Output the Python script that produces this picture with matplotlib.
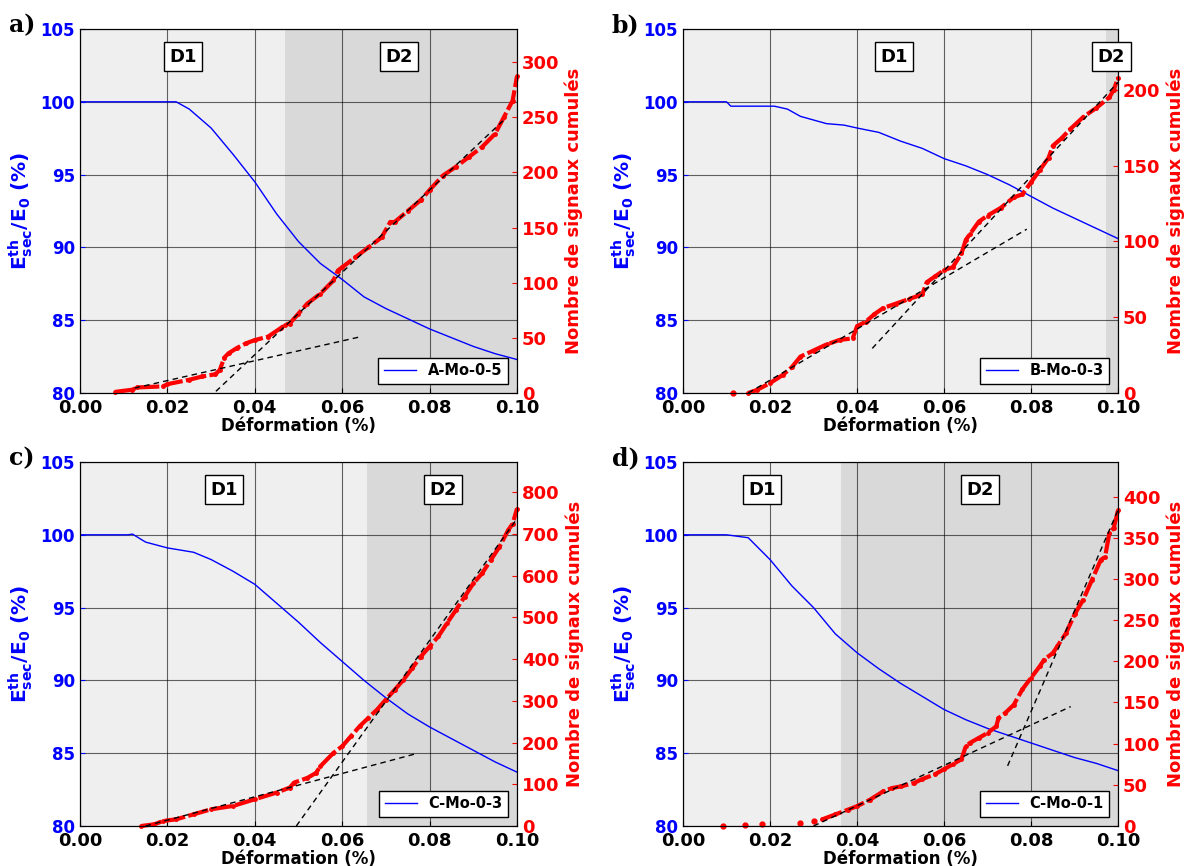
import matplotlib
matplotlib.use("Agg")
import matplotlib.pyplot as plt
import numpy as np

plt.rcParams['font.family'] = 'DejaVu Sans'
plt.rcParams['font.weight'] = 'bold'
plt.rcParams['mathtext.fontset'] = 'dejavusans'
plt.rcParams['mathtext.default'] = 'bf'

# ---- data ----
panel_letters = ["a)", "b)", "c)", "d)"]
sample_names = ["A-Mo-0-5", "B-Mo-0-3", "C-Mo-0-3", "C-Mo-0-1"]
d2_start = [0.0469, 0.0971, 0.0657, 0.0363]
d1_label_x = [0.0235, 0.0485, 0.033, 0.0182]
d2_label_x = [0.073, 0.0985, 0.083, 0.0682]
right_ymax = [330, 240, 872, 442]
right_ticks = [[0, 50, 100, 150, 200, 250, 300],
               [0, 50, 100, 150, 200],
               [0, 100, 200, 300, 400, 500, 600, 700, 800],
               [0, 50, 100, 150, 200, 250, 300, 350, 400]]

# E_sec / E_0 (%) curves
mod_a_x = [0.0, 0.010, 0.022, 0.025, 0.030, 0.035, 0.040, 0.045, 0.050, 0.055, 0.060, 0.065, 0.070, 0.075, 0.080, 0.085, 0.090, 0.095, 0.100]
mod_a_y = [100, 100, 100, 99.5, 98.2, 96.4, 94.5, 92.3, 90.4, 88.9, 87.8, 86.6, 85.8, 85.1, 84.4, 83.8, 83.2, 82.7, 82.3]
mod_b_x = [0.0, 0.010, 0.011, 0.021, 0.024, 0.027, 0.033, 0.037, 0.040, 0.045, 0.050, 0.055, 0.060, 0.065, 0.070, 0.075, 0.080, 0.085, 0.090, 0.095, 0.100]
mod_b_y = [100, 100, 99.7, 99.7, 99.5, 99.0, 98.5, 98.4, 98.2, 97.9, 97.3, 96.8, 96.1, 95.6, 95.0, 94.3, 93.5, 92.7, 92.0, 91.3, 90.6]
mod_c_x = [0.0, 0.011, 0.012, 0.015, 0.020, 0.026, 0.030, 0.035, 0.040, 0.045, 0.050, 0.055, 0.060, 0.065, 0.070, 0.075, 0.080, 0.085, 0.090, 0.095, 0.100]
mod_c_y = [100, 100, 100.05, 99.5, 99.1, 98.8, 98.3, 97.5, 96.6, 95.3, 94.0, 92.6, 91.3, 90.0, 88.8, 87.7, 86.8, 86.0, 85.2, 84.4, 83.7]
mod_d_x = [0.0, 0.010, 0.015, 0.020, 0.025, 0.030, 0.035, 0.040, 0.045, 0.050, 0.055, 0.060, 0.065, 0.070, 0.075, 0.080, 0.085, 0.090, 0.095, 0.100]
mod_d_y = [100, 100, 99.8, 98.3, 96.5, 95.0, 93.2, 91.9, 90.8, 89.8, 88.9, 88.0, 87.3, 86.7, 86.2, 85.7, 85.2, 84.7, 84.3, 83.8]

# cumulated AE signals
ae_a_x = [0.008, 0.012, 0.013, 0.019, 0.020, 0.025, 0.028, 0.031, 0.032, 0.033, 0.034, 0.036, 0.038, 0.040, 0.043, 0.046, 0.047, 0.048, 0.050, 0.052, 0.055, 0.058, 0.059, 0.060, 0.063, 0.066, 0.069, 0.071, 0.072, 0.075, 0.078, 0.080, 0.083, 0.086, 0.089, 0.092, 0.095, 0.097, 0.099, 0.100]
ae_a_y = [1, 3, 5, 6, 8, 12, 15, 17, 21, 32, 36, 41, 45, 48, 51, 59, 62, 63, 72, 81, 90, 102, 111, 114, 123, 132, 141, 155, 155, 165, 175, 184, 197, 205, 214, 223, 235, 250, 265, 287]
ae_b_x = [0.015, 0.017, 0.020, 0.023, 0.025, 0.027, 0.030, 0.033, 0.036, 0.039, 0.040, 0.042, 0.044, 0.046, 0.049, 0.052, 0.055, 0.056, 0.058, 0.060, 0.062, 0.064, 0.065, 0.066, 0.068, 0.070, 0.073, 0.076, 0.078, 0.080, 0.082, 0.084, 0.085, 0.087, 0.089, 0.092, 0.095, 0.098, 0.099, 0.100]
ae_b_y = [0, 2, 6.5, 12, 17, 24, 28, 32, 35, 36, 44, 47, 52, 56, 59, 62, 65, 73, 77, 81, 83, 92, 101, 105, 113, 117, 122, 129, 131, 139, 147, 155, 163, 168, 174, 182, 188, 195, 200, 208]
ae_c_x = [0.014, 0.017, 0.019, 0.022, 0.026, 0.030, 0.035, 0.040, 0.045, 0.048, 0.049, 0.052, 0.054, 0.055, 0.058, 0.060, 0.062, 0.064, 0.066, 0.068, 0.070, 0.072, 0.074, 0.076, 0.078, 0.080, 0.082, 0.084, 0.086, 0.088, 0.090, 0.092, 0.094, 0.096, 0.098, 0.099, 0.100]
ae_c_y = [0, 4, 12, 16, 28, 40, 48, 64, 80, 92, 104, 115, 127, 143, 175, 191, 215, 239, 259, 279, 303, 326, 350, 378, 406, 430, 454, 486, 517, 549, 581, 605, 637, 669, 709, 724, 760]
ae_d_x = [0.032, 0.035, 0.038, 0.040, 0.043, 0.046, 0.048, 0.050, 0.053, 0.055, 0.058, 0.060, 0.062, 0.064, 0.065, 0.066, 0.068, 0.070, 0.072, 0.0725, 0.074, 0.076, 0.078, 0.080, 0.082, 0.083, 0.085, 0.086, 0.088, 0.090, 0.092, 0.094, 0.096, 0.097, 0.098, 0.099, 0.100]
ae_d_y = [8, 14, 20, 24, 32, 42, 46, 48, 52, 57, 63, 69, 75, 81, 97, 101, 107, 113, 121, 131, 137, 147, 166, 180, 194, 202, 210, 218, 234, 257, 275, 299, 323, 327, 356, 362, 384]
isolated_x = [[], [0.0115], [], [0.0092, 0.0143, 0.0182, 0.027, 0.030]]
isolated_y = [[], [0], [], [0, 1, 2, 4, 6]]

# dashed trend lines: (x0, x1, y0, y1) on the right axis
trend_a = [(0.0125, 0.0642, 4.5, 51), (0.0311, 0.0974, 1.5, 249)]
trend_b = [(0.015, 0.079, 0, 108), (0.0435, 0.1, 29.4, 205)]
trend_c = [(0.015, 0.0772, 0, 174), (0.0495, 0.1, 0, 736)]
trend_d = [(0.030, 0.0891, 0, 145), (0.0746, 0.1, 73, 384)]

mod_x = [mod_a_x, mod_b_x, mod_c_x, mod_d_x]
mod_y = [mod_a_y, mod_b_y, mod_c_y, mod_d_y]
ae_x = [ae_a_x, ae_b_x, ae_c_x, ae_d_x]
ae_y = [ae_a_y, ae_b_y, ae_c_y, ae_d_y]
trends = [trend_a, trend_b, trend_c, trend_d]

# axes positions in figure fraction
positions = [[0.0673, 0.5462, 0.3675, 0.4203],
             [0.5744, 0.5462, 0.3660, 0.4203],
             [0.0673, 0.0462, 0.3675, 0.4203],
             [0.5744, 0.0462, 0.3660, 0.4203]]

fig = plt.figure(figsize=(11.89, 8.66), dpi=100)

for k in range(4):
    ax = fig.add_axes(positions[k])
    ax.set_facecolor('#efefef')
    ax.axvspan(d2_start[k], 0.1, color='#d9d9d9', zorder=0, lw=0)
    ax.set_xlim(0, 0.1)
    ax.set_ylim(80, 105)
    ax.set_xticks([0.0, 0.02, 0.04, 0.06, 0.08, 0.10])
    ax.set_xticklabels(["0.00", "0.02", "0.04", "0.06", "0.08", "0.10"])
    ax.set_yticks([80, 85, 90, 95, 100, 105])
    ax.grid(True, color='black', lw=0.8, alpha=0.6)
    ax.set_axisbelow(True)
    line, = ax.plot(mod_x[k], mod_y[k], color='blue', lw=1, label=sample_names[k])
    ax.tick_params(axis='y', colors='blue', labelsize=12, direction='in')
    ax.tick_params(axis='x', labelsize=13, direction='in', pad=4)
    for l in ax.get_yticklabels() + ax.get_xticklabels():
        l.set_fontweight('bold')
    ax.set_xlabel('Déformation (%)', fontsize=12, fontweight='bold', labelpad=0)
    ax.set_ylabel(r'E$^{\mathbf{th}}_{\mathbf{sec}}$/E$_{\mathbf{0}}$ (%)', color='blue',
                  fontsize=14.5, fontweight='bold', labelpad=4)

    ax2 = ax.twinx()
    ax2.set_ylim(0, right_ymax[k])
    ax2.set_yticks(right_ticks[k])
    ax2.tick_params(axis='y', colors='red', labelsize=13, direction='in')
    for l in ax2.get_yticklabels():
        l.set_fontweight('bold')
    ax2.set_ylabel('Nombre de signaux cumulés', color='red', fontsize=13, fontweight='bold')
    ax2.plot(ae_x[k], ae_y[k], color='red', lw=3, marker='o', ms=2.5,
             dashes=(5, 0.8), clip_on=False)
    if isolated_x[k]:
        ax2.plot(isolated_x[k], isolated_y[k], 'o', color='red', ms=3.5, clip_on=False)
    for (x0, x1, y0, y1) in trends[k]:
        ax2.plot([x0, x1], [y0, y1], color='black', lw=1, ls='--', dashes=(4, 3))

    box = dict(boxstyle='square,pad=0.3', fc='white', ec='black', lw=1)
    ax2.text(d1_label_x[k], 103.1, 'D1', transform=ax.transData, fontsize=13,
             fontweight='bold', ha='center', va='center', bbox=box)
    ax2.text(d2_label_x[k], 103.1, 'D2', transform=ax.transData, fontsize=13,
             fontweight='bold', ha='center', va='center', bbox=box, clip_on=False)

    leg = ax2.legend(handles=[line], loc='lower right', fontsize=10.5, fancybox=False,
                     framealpha=1, edgecolor='black', handlelength=2.2,
                     borderaxespad=0.6)
    for t in leg.get_texts():
        t.set_fontweight('bold')
    leg.get_frame().set_linewidth(1)

    fig.text(positions[k][0] - 0.06, positions[k][1] + positions[k][3] + 0.004,
             panel_letters[k], fontsize=17, fontweight='bold', family='DejaVu Serif',
             ha='left', va='center')

fig.savefig("out.png", dpi=100)
